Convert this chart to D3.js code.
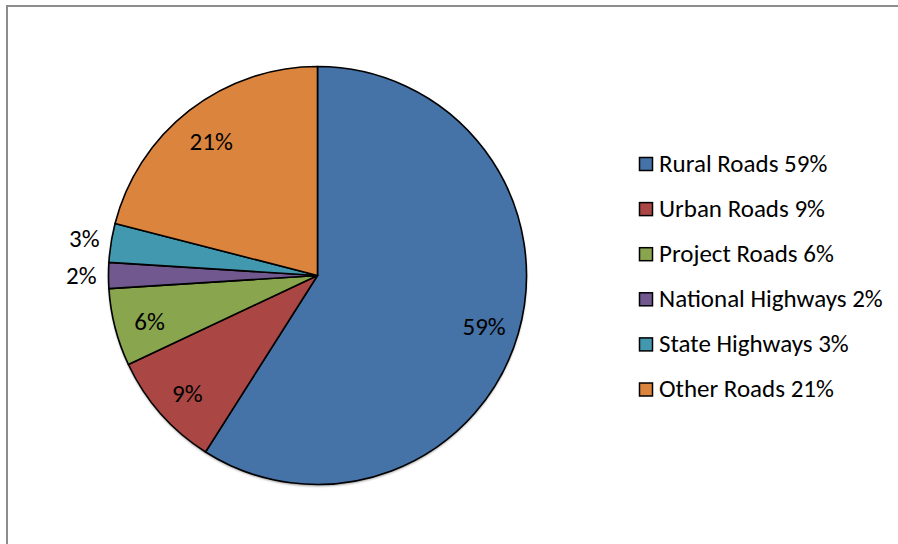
<!DOCTYPE html>
<html>
<head>
<meta charset="utf-8">
<script src="https://cdn.jsdelivr.net/npm/d3@7"></script>
<style>
  html, body { margin: 0; padding: 0; background: #fff; }
  svg { display: block; }
  text { font-family: Carlito, Lato, "Open Sans", sans-serif; fill: #000; }
</style>
</head>
<body>
<svg id="chart" width="898" height="544"></svg>
<script>
const categories = ["Rural Roads", "Urban Roads", "Project Roads", "National Highways", "State Highways", "Other Roads"];
const values = [59, 9, 6, 2, 3, 21];
const colors = ["#4572A7", "#AA4643", "#89A54E", "#71588F", "#4198AF", "#DB843D"];

const W = 898, H = 544;
const svg = d3.select("#chart");

// outer frame
svg.append("rect")
  .attr("x", 7).attr("y", 6).attr("width", W + 10).attr("height", H + 10)
  .attr("fill", "#fff").attr("stroke", "#8c8c8c").attr("stroke-width", 2);

const cx = 317.5, cy = 275.5, R = 209;
const data = categories.map((c, i) => ({ name: c, value: values[i], color: colors[i] }));

const pie = d3.pie().value(d => d.value).sort(null);
const arcs = pie(data);
const arc = d3.arc().innerRadius(0).outerRadius(R);

const g = svg.append("g").attr("transform", `translate(${cx},${cy})`);

// subtle shadow
const defs = svg.append("defs");
const f = defs.append("filter").attr("id", "sh").attr("x", "-10%").attr("y", "-10%").attr("width", "120%").attr("height", "120%");
f.append("feDropShadow").attr("dx", 0).attr("dy", 1.5).attr("stdDeviation", 1).attr("flood-color", "#000").attr("flood-opacity", 0.45);

g.append("circle").attr("r", R).attr("fill", "#fff").attr("filter", "url(#sh)");

g.selectAll("path.slice").data(arcs).join("path")
  .attr("class", "slice")
  .attr("d", arc)
  .attr("fill", d => d.data.color)
  .attr("stroke", "#000")
  .attr("stroke-width", 1.6)
  .attr("stroke-linejoin", "round");

// labels
const inArc = d3.arc().innerRadius(R * 0.83).outerRadius(R * 0.83);
const outArc = d3.arc().innerRadius(R * 1.13).outerRadius(R * 1.13);
g.selectAll("text.lbl").data(arcs).join("text")
  .attr("class", "lbl")
  .attr("text-anchor", "middle")
  .attr("dominant-baseline", "central")
  .attr("font-size", 25)
  .attr("dy", d => d.data.value < 4 ? 0 : 3)
  .attr("transform", d => `translate(${(d.data.value < 4 ? outArc : inArc).centroid(d)})`)
  .text(d => d.data.value + "%");

// legend
const lx = 639, ly = 157, step = 45.1;
const leg = svg.append("g");
const rows = leg.selectAll("g").data(data).join("g")
  .attr("transform", (d, i) => `translate(${lx},${ly + i * step})`);
rows.append("rect")
  .attr("x", 0.5).attr("y", 0.5).attr("width", 13).attr("height", 13)
  .attr("fill", d => d.color).attr("stroke", "#000").attr("stroke-width", 1.5);
rows.append("text")
  .attr("x", 20).attr("y", 14.5)
  .attr("font-size", 25)
  .text(d => `${d.name} ${d.value}%`);
</script>
</body>
</html>
